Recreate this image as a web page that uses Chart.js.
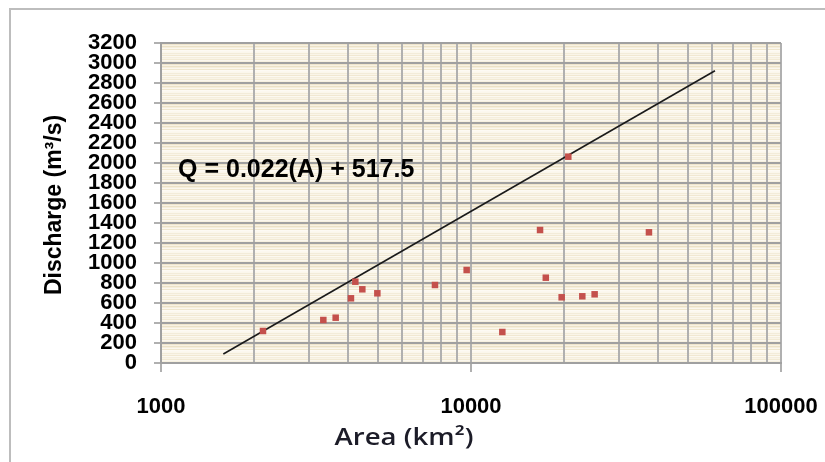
<!DOCTYPE html>
<html>
<head>
<meta charset="utf-8">
<script src="https://cdn.jsdelivr.net/npm/chart.js@4/dist/chart.umd.min.js"></script>
<style>
  html, body { margin: 0; padding: 0; background: #ffffff; }
  #wrap { position: relative; width: 825px; height: 462px; overflow: hidden; }
  #frame { position: absolute; left: 9px; top: 8px; width: 900px; height: 500px;
           border-left: 2px solid #bdbdbd; border-top: 2px solid #bdbdbd; box-sizing: border-box; }
  canvas { position: absolute; left: 0; top: 0; }
</style>
</head>
<body>
<div id="wrap">
  <div id="frame"></div>
  <canvas id="c" width="825" height="462"></canvas>
</div>
<script>
// ---- data ----
const areaKm2   = [2133, 3339, 3660, 4100, 4235, 4461, 4988, 7652, 9683, 12620, 16700, 17430, 19610, 22860, 25050, 37500, 20600];
const discharge = [ 320,  430,  453,  647,  813,  737,  697,  780,  930,   310, 1330,  853,  657,  667,  687, 1307, 2063];
const trendArea      = [1589, 61240];
const trendDischarge = [  90,  2923];
const xGridValues = [1000,2000,3000,4000,5000,6000,7000,8000,9000,
                     10000,20000,30000,40000,50000,60000,70000,80000,90000,100000];
const xTickLabels = ['1000', '10000', '100000'];
const xMajorValues = [1000, 10000, 100000];
const yMin = 0, yMax = 3200, yStep = 200;
const equationText = 'Q = 0.022(A) + 517.5';
const equationAt = {x: 1135, y: 1930};
const xTitle = 'Area (km\u00B2)';
const yTitle = 'Discharge (m\u00B3/s)';

const points = areaKm2.map((a, i) => ({x: a, y: discharge[i]}));
const trend = trendArea.map((a, i) => ({x: a, y: trendDischarge[i]}));

const bgPlugin = {
  id: 'bgStripes',
  beforeDraw(chart) {
    const {ctx, chartArea: ca, scales} = chart;
    const band = Math.round(scales.y.getPixelForValue(0) - scales.y.getPixelForValue(yStep));
    const pc = document.createElement('canvas');
    pc.width = 4; pc.height = band;
    const p = pc.getContext('2d');
    const stripes = ['#f3ecd8','#efe5cc','#f8f2e3','#ebe1c6','#f5eedb','#fbf7ed','#efe6ce','#fdfaf4',
                     '#fcf8ef','#fbf7ec','#f3ecd9','#faf5e9','#f1e8d2','#fcf9f1','#f5eedd','#f9f4e7',
                     '#f2ead5','#fbf7ee','#f6f0df','#f0e7d0'];
    for (let i = 0; i < band; i++) {
      p.fillStyle = stripes[Math.floor(i * stripes.length / band)];
      p.fillRect(0, i, 4, 1);
    }
    const pat = ctx.createPattern(pc, 'repeat');
    ctx.save();
    ctx.translate(ca.left, ca.top);
    ctx.fillStyle = pat;
    ctx.fillRect(0, 0, ca.right - ca.left, ca.bottom - ca.top);
    ctx.restore();
  },
  afterDraw(chart) {
    const {ctx, chartArea: ca, scales} = chart;
    ctx.save();
    // equation
    ctx.fillStyle = '#000';
    ctx.font = 'bold 25px "Liberation Sans", Arial, sans-serif';
    ctx.textBaseline = 'middle';
    ctx.textAlign = 'left';
    ctx.fillText(equationText, scales.x.getPixelForValue(equationAt.x), scales.y.getPixelForValue(equationAt.y));
    // y title
    ctx.save();
    ctx.translate(ca.left - 106, (ca.top + ca.bottom) / 2 + 2);
    ctx.rotate(-Math.PI / 2);
    ctx.textAlign = 'center';
    ctx.textBaseline = 'middle';
    ctx.font = 'bold 23px "Liberation Sans", Arial, sans-serif';
    ctx.fillText(yTitle, 0, 0);
    ctx.restore();
    // x title
    ctx.save();
    ctx.translate(ca.left + 243, ca.bottom + 75);
    ctx.scale(1.2, 1);
    ctx.textAlign = 'center';
    ctx.textBaseline = 'middle';
    ctx.fillStyle = '#1c1c28';
    ctx.font = '600 23px "Open Sans", "Liberation Sans", sans-serif';
    ctx.fillText(xTitle, 0, 0);
    ctx.restore();
    ctx.restore();
  }
};

new Chart(document.getElementById('c'), {
  type: 'scatter',
  data: {
    datasets: [
      {
        type: 'line',
        data: trend,
        borderColor: '#1a1a1a',
        borderWidth: 1.6,
        pointRadius: 0,
        fill: false,
        order: 2
      },
      {
        data: points,
        pointStyle: 'rect',
        pointRadius: 4.6,
        backgroundColor: '#c4504c',
        borderWidth: 0,
        order: 1
      }
    ]
  },
  options: {
    responsive: false,
    animation: false,
    events: [],
    layout: { padding: { left: 0, right: 44, top: 43, bottom: 0 } },
    plugins: { legend: { display: false }, tooltip: { enabled: false } },
    scales: {
      x: {
        type: 'logarithmic',
        min: 1000, max: 100000,
        afterBuildTicks(scale) { scale.ticks = xGridValues.map(v => ({value: v})); },
        afterFit(scale) { scale.height = 99; scale.paddingRight = 0; scale.paddingLeft = 0; },
        grid: {
          color: '#b0b0b0',
          lineWidth: 2,
          tickLength: 9,
          tickColor: ctx => (xMajorValues.includes(ctx.tick && ctx.tick.value) ? '#b0b0b0' : 'rgba(0,0,0,0)')
        },
        border: { color: '#a0a0a0', width: 2 },
        ticks: {
          autoSkip: false,
          maxRotation: 0,
          padding: 22,
          color: '#000',
          font: { family: '"Liberation Sans", Arial, sans-serif', size: 22, weight: 'bold' },
          callback(value) {
            const i = xMajorValues.indexOf(value);
            return i >= 0 ? xTickLabels[i] : '';
          }
        }
      },
      y: {
        min: yMin, max: yMax,
        afterFit(scale) { scale.width = 161; },
        grid: { color: '#a0a0a0', lineWidth: 2, tickLength: 7, tickColor: '#b0b0b0' },
        border: { color: '#a0a0a0', width: 2 },
        ticks: {
          stepSize: yStep,
          autoSkip: false,
          padding: 17,
          color: '#000',
          font: { family: '"Liberation Sans", Arial, sans-serif', size: 22, weight: 'bold' },
          callback(value) { return String(value); }
        }
      }
    }
  },
  plugins: [bgPlugin]
});
</script>
</body>
</html>
